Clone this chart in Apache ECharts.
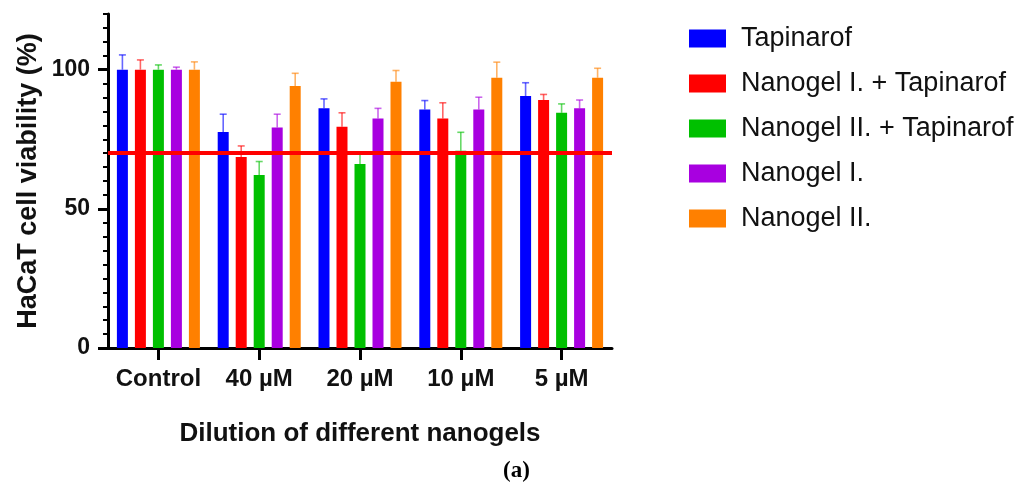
<!DOCTYPE html>
<html>
<head>
<meta charset="utf-8">
<script src="https://cdn.jsdelivr.net/npm/echarts@6/dist/echarts.min.js"></script>
<style>html,body{margin:0;padding:0;background:#fff}#c{width:1034px;height:486px}</style>
</head>
<body>
<div id="c"></div>
<script>
const categories = ['Control', '40 µM', '20 µM', '10 µM', '5 µM'];
const seriesNames = ['Tapinarof', 'Nanogel I. + Tapinarof', 'Nanogel II. + Tapinarof', 'Nanogel I.', 'Nanogel II.'];
const tapinarof      = [100, 77.6, 86.1, 85.7, 90.5];
const ng1Tapinarof   = [100, 68.6, 79.5, 82.5, 89.1];
const ng2Tapinarof   = [100, 62.2, 66.1, 70.9, 84.5];
const nanogel1       = [100, 79.2, 82.5, 85.7, 86.1];
const nanogel2       = [100, 94.1, 95.7, 97.1, 97.1];
const tapinarofErr    = [5.3, 6.4, 3.4, 3.2, 4.8];
const ng1TapinarofErr = [3.5, 4.0, 5.0, 5.6, 2.0];
const ng2TapinarofErr = [1.7, 4.8, 4.2, 6.6, 3.2];
const nanogel1Err     = [0.9, 4.8, 3.6, 4.4, 3.0];
const nanogel2Err     = [2.8, 4.6, 4.0, 5.6, 3.4];
const thresholdValue = 70;
const yTicksMajor = [0, 50, 100];

const values = [tapinarof, ng1Tapinarof, ng2Tapinarof, nanogel1, nanogel2];
const errors = [tapinarofErr, ng1TapinarofErr, ng2TapinarofErr, nanogel1Err, nanogel2Err];
const colors = ['#0000ff', '#ff0000', '#00c000', '#a800e0', '#ff8000'];

const BAR_W = 11, BAR_GAP = 7;
const FONT = '"Liberation Sans", Arial, sans-serif';

const gridTop = 14, gridH = 334, gridLeft = 108, gridW = 504;
const yMax = 120;
const grid2H = gridH * 100 / yMax;

const chart = echarts.init(document.getElementById('c'));

const series = [];
values.forEach((vals, i) => {
  series.push({
    name: seriesNames[i],
    type: 'bar',
    xAxisIndex: 0, yAxisIndex: 0,
    data: vals,
    barWidth: BAR_W,
    barGap: (BAR_GAP / BAR_W * 100) + '%',
    itemStyle: { color: colors[i] },
    z: 2,
    animation: false
  });
});
values.forEach((vals, i) => {
  series.push({
    name: seriesNames[i] + ' err',
    type: 'custom',
    xAxisIndex: 0, yAxisIndex: 0,
    data: vals.map((v, j) => [j, v, v + errors[i][j]]),
    z: 3,
    animation: false,
    renderItem: function (params, api) {
      const c = api.coord([api.value(0), api.value(1)]);
      const t = api.coord([api.value(0), api.value(2)]);
      const x = c[0] + (i - 2) * (BAR_W + BAR_GAP);
      const style = { stroke: colors[i], lineWidth: 1.6, opacity: 0.6 };
      return {
        type: 'group',
        children: [
          { type: 'line', shape: { x1: x, y1: c[1], x2: x, y2: t[1] }, style: style },
          { type: 'line', shape: { x1: x - 3.5, y1: t[1], x2: x + 3.5, y2: t[1] }, style: style }
        ]
      };
    }
  });
});
series.push({
  type: 'line',
  xAxisIndex: 0, yAxisIndex: 0,
  data: [],
  z: 5,
  animation: false,
  markLine: {
    silent: true,
    symbol: 'none',
    label: { show: false },
    lineStyle: { color: '#ff0000', width: 4, type: 'solid' },
    data: [{ yAxis: thresholdValue }],
    animation: false
  }
});

chart.setOption({
  backgroundColor: '#fff',
  animation: false,
  grid: [
    { left: gridLeft, top: gridTop, width: gridW, height: gridH },
    { left: gridLeft, top: gridTop + gridH - grid2H, width: gridW, height: grid2H }
  ],
  legend: {
    data: seriesNames,
    orient: 'vertical',
    left: 684,
    top: 20,
    itemWidth: 37,
    itemHeight: 18,
    itemGap: 18,
    icon: 'rect',
    textStyle: { fontFamily: FONT, fontSize: 27, lineHeight: 27, color: '#111', padding: [0, 0, 0, 10] }
  },
  xAxis: [
    {
      type: 'category', gridIndex: 0, data: categories,
      axisLine: { show: true, lineStyle: { color: '#000', width: 3 } },
      axisTick: { show: true, alignWithLabel: true, interval: 0, length: 12, lineStyle: { color: '#000', width: 3 } },
      axisLabel: { interval: 0, margin: 19, fontFamily: FONT, fontWeight: 'bold', fontSize: 24, color: '#111' },
      name: 'Dilution of different nanogels',
      nameLocation: 'middle', nameGap: 73,
      nameTextStyle: { fontFamily: FONT, fontWeight: 'bold', fontSize: 26, color: '#111' }
    },
    { type: 'category', gridIndex: 1, data: categories, show: false }
  ],
  yAxis: [
    {
      type: 'value', gridIndex: 0, min: 0, max: yMax, interval: 5,
      splitLine: { show: false },
      axisLine: { show: true, lineStyle: { color: '#000', width: 3 } },
      axisTick: { show: true, length: 5, lineStyle: { color: '#000', width: 2 } },
      axisLabel: { show: false },
      name: 'HaCaT cell viability (%)',
      nameLocation: 'middle', nameGap: 66,
      nameTextStyle: { fontFamily: FONT, fontWeight: 'bold', fontSize: 27, color: '#111' }
    },
    {
      type: 'value', gridIndex: 1, min: yTicksMajor[0], max: yTicksMajor[yTicksMajor.length - 1], interval: 50,
      splitLine: { show: false },
      axisLine: { show: false },
      axisTick: { show: true, length: 10, lineStyle: { color: '#000', width: 3 } },
      axisLabel: { margin: 18, fontFamily: FONT, fontWeight: 'bold', fontSize: 23, color: '#111' }
    }
  ],
  graphic: [{
    type: 'text', left: 503, top: 460,
    style: { text: '(a)', font: 'bold 23px "Liberation Serif", "DejaVu Serif", serif', fill: '#000' }
  }],
  series: series
});
</script>
</body>
</html>
